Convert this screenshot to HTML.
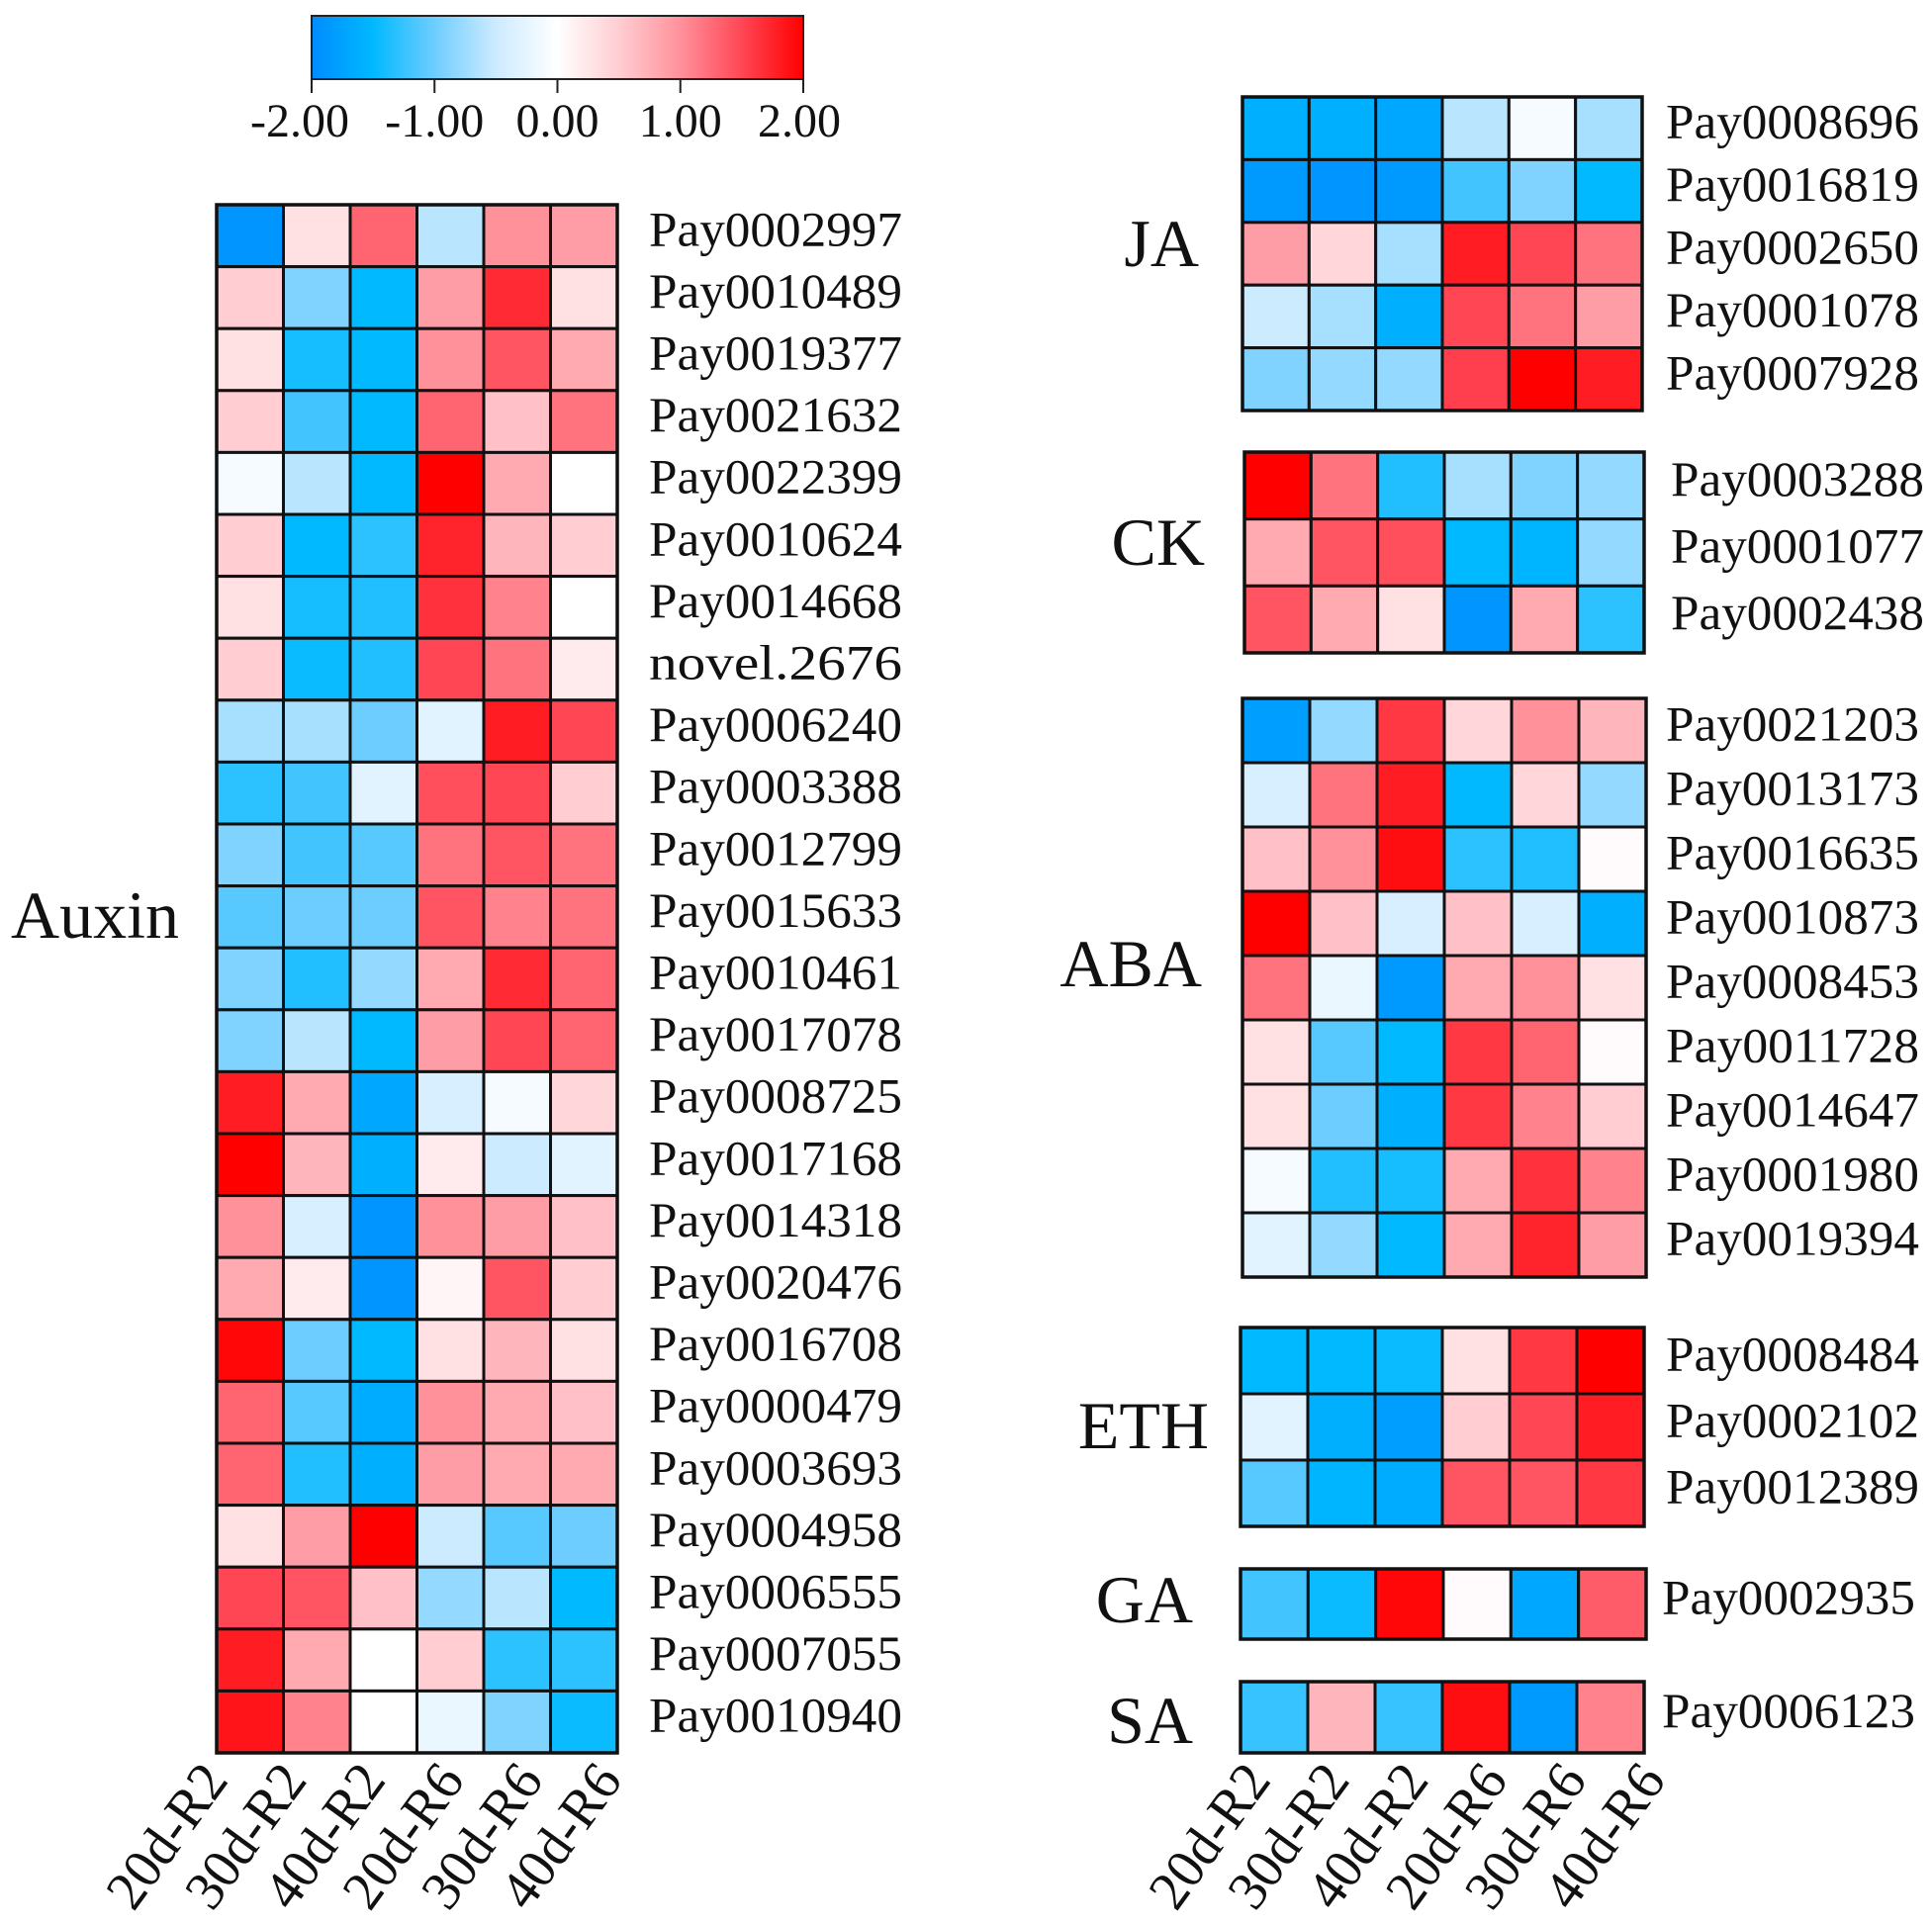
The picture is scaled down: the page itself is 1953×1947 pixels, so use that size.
<!DOCTYPE html>
<html><head><meta charset="utf-8"><style>
html,body{margin:0;padding:0;background:#fff;}
svg text{font-family:"Liberation Serif",serif;fill:#111;}
</style></head><body>
<svg id="chart" width="1953" height="1942" viewBox="0 0 1953 1942" xmlns="http://www.w3.org/2000/svg">
<defs>
<linearGradient id="cbgrad" x1="0" x2="1" y1="0" y2="0">
<stop offset="0" stop-color="rgb(0,140,255)"/>
<stop offset="0.125" stop-color="rgb(0,185,255)"/>
<stop offset="0.25" stop-color="rgb(110,205,255)"/>
<stop offset="0.375" stop-color="rgb(205,235,255)"/>
<stop offset="0.5" stop-color="rgb(255,255,255)"/>
<stop offset="0.625" stop-color="rgb(255,205,210)"/>
<stop offset="0.75" stop-color="rgb(255,145,155)"/>
<stop offset="0.875" stop-color="rgb(255,70,85)"/>
<stop offset="1" stop-color="rgb(255,0,0)"/>
</linearGradient>
</defs>
<g id="colorbar">
<rect x="315" y="16" width="497" height="64" fill="url(#cbgrad)" stroke="#222" stroke-width="2"/>
</g>
<g id="plots"></g>
</svg>
<script>
const columns = ["20d-R2","30d-R2","40d-R2","20d-R6","30d-R6","40d-R6"];
const scaleTicks = [-2, -1, 0, 1, 2];
const scaleTickLabels = ["-2.00","-1.00","0.00","1.00","2.00"];

const auxinGenes = ["Pay0002997","Pay0010489","Pay0019377","Pay0021632","Pay0022399","Pay0010624","Pay0014668","novel.2676","Pay0006240","Pay0003388","Pay0012799","Pay0015633","Pay0010461","Pay0017078","Pay0008725","Pay0017168","Pay0014318","Pay0020476","Pay0016708","Pay0000479","Pay0003693","Pay0004958","Pay0006555","Pay0007055","Pay0010940"];
const auxinValues = [
[-1.9,0.3,1.3,-0.6,1.0,0.9],
[0.5,-0.9,-1.5,0.9,1.7,0.3],
[0.3,-1.4,-1.5,1.0,1.4,0.8],
[0.5,-1.2,-1.5,1.3,0.6,1.2],
[-0.1,-0.6,-1.5,2.0,0.8,0.0],
[0.5,-1.5,-1.3,1.75,0.7,0.5],
[0.3,-1.4,-1.35,1.65,1.1,0.0],
[0.5,-1.45,-1.35,1.5,1.2,0.2],
[-0.7,-0.7,-1.0,-0.3,1.8,1.5],
[-1.3,-1.2,-0.3,1.45,1.5,0.5],
[-0.9,-1.2,-1.1,1.2,1.4,1.2],
[-1.1,-1.0,-1.0,1.4,1.1,1.2],
[-0.9,-1.35,-0.8,0.8,1.7,1.3],
[-0.9,-0.6,-1.5,0.9,1.5,1.3],
[1.8,0.8,-1.7,-0.4,-0.1,0.4],
[2.0,0.7,-1.6,0.2,-0.5,-0.3],
[1.0,-0.4,-1.9,1.0,0.9,0.6],
[0.8,0.2,-1.9,0.1,1.4,0.5],
[1.95,-1.0,-1.5,0.3,0.7,0.3],
[1.3,-1.1,-1.65,1.0,0.8,0.6],
[1.3,-1.35,-1.6,0.9,0.8,0.8],
[0.3,0.9,2.0,-0.5,-1.1,-1.0],
[1.5,1.4,0.6,-0.8,-0.6,-1.5],
[1.8,0.8,0.0,0.5,-1.3,-1.3],
[1.85,1.1,0.0,-0.2,-0.9,-1.45]];

const jaGenes = ["Pay0008696","Pay0016819","Pay0002650","Pay0001078","Pay0007928"];
const jaValues = [
[-1.6,-1.6,-1.7,-0.6,-0.1,-0.7],
[-1.85,-1.9,-1.85,-1.2,-0.9,-1.5],
[0.9,0.4,-0.7,1.8,1.5,1.2],
[-0.5,-0.7,-1.6,1.5,1.2,0.9],
[-0.9,-0.8,-0.8,1.55,2.0,1.8]];

const ckGenes = ["Pay0003288","Pay0001077","Pay0002438"];
const ckValues = [
[2.0,1.2,-1.35,-0.7,-0.9,-0.8],
[0.8,1.4,1.45,-1.5,-1.55,-0.8],
[1.4,0.8,0.3,-1.9,0.8,-1.3]];

const abaGenes = ["Pay0021203","Pay0013173","Pay0016635","Pay0010873","Pay0008453","Pay0011728","Pay0014647","Pay0001980","Pay0019394"];
const abaValues = [
[-1.8,-0.8,1.6,0.4,1.0,0.7],
[-0.4,1.2,1.8,-1.5,0.4,-0.8],
[0.6,1.0,1.9,-1.3,-1.35,0.05],
[2.0,0.6,-0.4,0.6,-0.4,-1.6],
[1.2,-0.2,-1.85,0.8,1.0,0.3],
[0.3,-1.1,-1.5,1.6,1.3,0.05],
[0.3,-1.0,-1.6,1.6,1.1,0.5],
[-0.1,-1.35,-1.4,0.8,1.65,1.1],
[-0.3,-0.8,-1.5,0.8,1.75,0.9]];

const ethGenes = ["Pay0008484","Pay0002102","Pay0012389"];
const ethValues = [
[-1.5,-1.5,-1.45,0.3,1.6,2.0],
[-0.3,-1.6,-1.8,0.5,1.5,1.8],
[-1.1,-1.55,-1.65,1.4,1.4,1.6]];

const gaGenes = ["Pay0002935"];
const gaValues = [[-1.2,-1.45,1.95,0.05,-1.7,1.35]];

const saGenes = ["Pay0006123"];
const saValues = [[-1.25,0.7,-1.25,1.9,-1.85,1.1]];

const NS = "http://www.w3.org/2000/svg";
const plots = document.getElementById('plots');
const cbar = document.getElementById('colorbar');

const stops = [[-2,[0,140,255]],[-1.5,[0,185,255]],[-1,[110,205,255]],[-0.5,[205,235,255]],[0,[255,255,255]],[0.5,[255,205,210]],[1,[255,145,155]],[1.5,[255,70,85]],[2,[255,0,0]]];
function color(v){
  v = Math.max(-2, Math.min(2, v));
  for (let i=0;i<stops.length-1;i++){
    const a=stops[i], b=stops[i+1];
    if (v<=b[0]){
      const t=(v-a[0])/(b[0]-a[0]);
      const c=a[1].map((x,k)=>Math.round(x+(b[1][k]-x)*t));
      return 'rgb('+c.join(',')+')';
    }
  }
  return 'rgb(255,0,0)';
}
function mk(tag, attrs, parent){
  const e=document.createElementNS(NS,tag);
  for (const k in attrs) e.setAttribute(k, attrs[k]);
  (parent||plots).appendChild(e);
  return e;
}

const cbX = v => 315 + (v+2)/4*497;
scaleTicks.forEach((t,i)=>{
  const ln = mk('line',{x1:cbX(t),x2:cbX(t),y1:80,y2:94,stroke:'#222','stroke-width':2},cbar);
  
  
  const tx = mk('text',{x:cbX(t)-(i===0?12:0)+(i===4?-4:0),y:138,'font-size':48,'text-anchor':'middle'},cbar);
  tx.textContent = scaleTickLabels[i];
  
  
});

function heatmap(name, genes, values, x0, x1, y0, y1, groupLabel, groupX, groupY, labelX){
  const g = mk('g',{});
  
  
  const cw=(x1-x0)/columns.length, rh=(y1-y0)/genes.length;
  values.forEach((row,r)=>{
    row.forEach((v,c)=>{
      const rc = mk('rect',{x:x0+c*cw,y:y0+r*rh,width:cw,height:rh,fill:color(v),stroke:'#111','stroke-width':3},g);
      
      
    });
    const tx = mk('text',{x:labelX,y:y0+r*rh+rh/2+10,'font-size':50},g);
    if (genes[r].length===10){ tx.setAttribute('textLength',256); tx.setAttribute('lengthAdjust','spacingAndGlyphs'); }
    tx.textContent = genes[r];
    
    
  });
  const ol = mk('rect',{x:x0,y:y0,width:x1-x0,height:y1-y0,fill:'none',stroke:'#111','stroke-width':3.5},g);
  
  
  const gl = mk('text',{x:groupX,y:groupY,'font-size':68,'text-anchor':'end'},g);
  gl.textContent = groupLabel;
  
  
}
function colLabels(name, x0, x1, firstX, y){
  const cw=(x1-x0)/columns.length;
  columns.forEach((c,i)=>{
    const cx = firstX + cw*1.18*i;
    const tx = mk('text',{x:cx,y:y,'font-size':56,'text-anchor':'end',textLength:165,lengthAdjust:'spacingAndGlyphs',transform:'rotate(-54 '+cx+' '+y+')'});
    tx.textContent = c;
    
    
  });
}

heatmap('auxin', auxinGenes, auxinValues, 219, 624, 207, 1772, 'Auxin', 181, 948, 656);
colLabels('left', 219, 624, 232, 1800);
heatmap('ja', jaGenes, jaValues, 1256, 1660, 98, 415, 'JA', 1212, 269, 1684);
heatmap('ck', ckGenes, ckValues, 1258, 1662, 457, 660, 'CK', 1218, 571, 1689);
heatmap('aba', abaGenes, abaValues, 1256, 1664, 706, 1291, 'ABA', 1215, 997, 1684);
heatmap('eth', ethGenes, ethValues, 1254, 1662, 1342, 1543, 'ETH', 1222, 1464, 1684);
heatmap('ga', gaGenes, gaValues, 1254, 1664, 1586, 1657, 'GA', 1206, 1640, 1680);
heatmap('sa', saGenes, saValues, 1254, 1662, 1700, 1772, 'SA', 1206, 1762, 1680);
colLabels('right', 1256, 1662, 1286, 1800);
</script>
</body></html>
